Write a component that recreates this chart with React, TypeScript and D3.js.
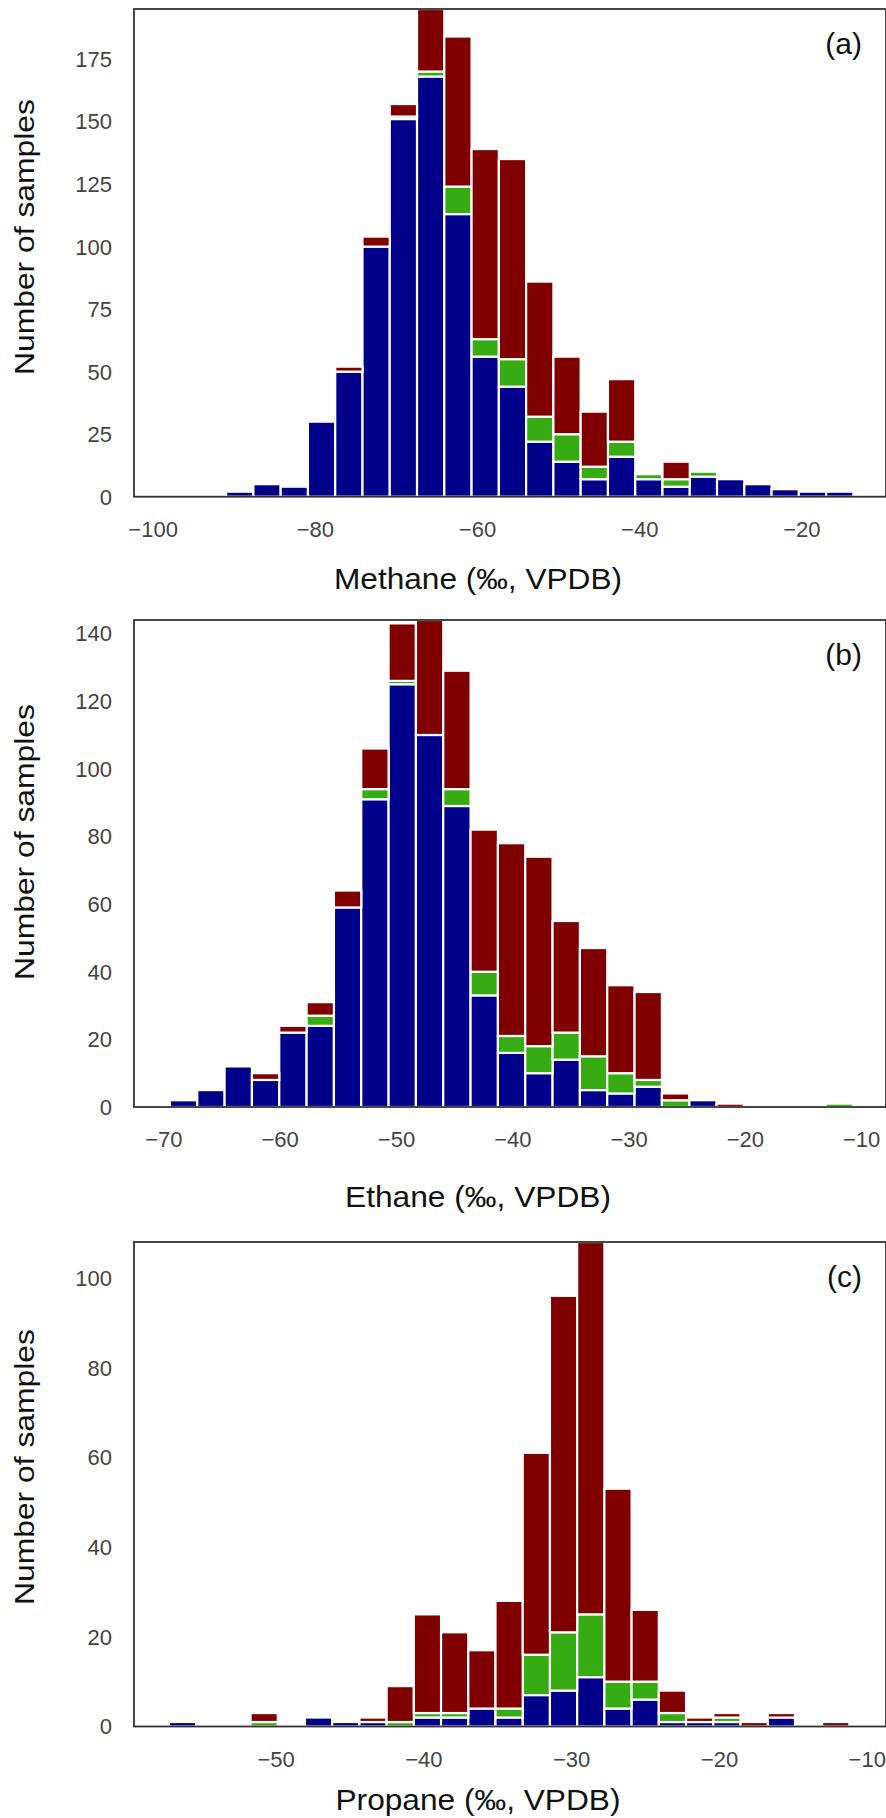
import React from "react";
import * as d3 from "d3";

// ---------- data ----------
// Panel (a) Methane: 23 bins
const methaneBinStart = -91.0;
const methaneBinWidth = 3.363;
const methaneBlue = [2, 5, 4, 30, 50, 100, 151, 168, 113, 56, 44, 22, 14, 7, 16, 7, 4, 8, 7, 5, 3, 2, 2];
const methaneGreen = [0, 0, 0, 0, 0, 0, 1, 2, 11, 7, 11, 10, 11, 5, 6, 2, 3, 2, 0, 0, 0, 0, 0];
const methaneRed = [0, 0, 0, 0, 2, 4, 5, 25, 60, 76, 80, 54, 31, 22, 25, 0, 7, 0, 0, 0, 0, 0, 0];
const methaneXDomain = [-102.36, -9.63];
const methaneXTicks = [-100, -80, -60, -40, -20];
const methaneYTicks = [0, 25, 50, 75, 100, 125, 150, 175];

// Panel (b) Ethane: 25 bins
const ethaneBinStart = -69.48;
const ethaneBinWidth = 2.35;
const ethaneBlue = [2, 5, 12, 8, 22, 24, 59, 91, 125, 110, 89, 33, 16, 10, 14, 5, 4, 6, 0, 2, 0, 0, 0, 0, 0];
const ethaneGreen = [0, 0, 0, 0, 0, 3, 0, 3, 1, 0, 5, 7, 5, 8, 8, 10, 6, 2, 2, 0, 0, 0, 0, 0, 1];
const ethaneRed = [0, 0, 0, 2, 2, 4, 5, 12, 17, 34, 35, 42, 57, 56, 33, 32, 26, 26, 2, 0, 1, 0, 0, 0, 0];
const ethaneXDomain = [-72.57, -7.91];
const ethaneXTicks = [-70, -60, -50, -40, -30, -20, -10];
const ethaneYTicks = [0, 20, 40, 60, 80, 100, 120, 140];

// Panel (c) Propane: 25 bins
const propaneBinStart = -57.26;
const propaneBinWidth = 1.842;
const propaneBlue = [1, 0, 0, 0, 0, 2, 1, 1, 0, 2, 2, 4, 2, 7, 8, 11, 4, 6, 1, 1, 1, 0, 2, 0, 0];
const propaneGreen = [0, 0, 0, 1, 0, 0, 0, 0, 1, 1, 1, 0, 2, 9, 13, 14, 6, 4, 2, 0, 1, 0, 0, 0, 0];
const propaneRed = [0, 0, 0, 2, 0, 0, 0, 1, 8, 22, 18, 13, 24, 45, 75, 83, 43, 16, 5, 1, 1, 1, 1, 0, 1];
const propaneXDomain = [-59.62, -8.73];
const propaneXTicks = [-50, -40, -30, -20, -10];
const propaneYTicks = [0, 20, 40, 60, 80, 100];

const xLabels = ["Methane (‰, VPDB)", "Ethane (‰, VPDB)", "Propane (‰, VPDB)"];
const panelTags = ["(a)", "(b)", "(c)"];
const yLabel = "Number of samples";

// ---------- styling / layout ----------
const COLORS = { blue: "#00008b", green: "#36ab12", red: "#800000" };
const FONT = "'Liberation Sans', Arial, Helvetica, sans-serif";
const LEFT = 134;
const RIGHT = 886;

const layouts = [
  { top: 9, bottom: 496.7, xLabelY: 589, xLabelLen: 288, yLabelCY: 237, tagY: 54 },
  { top: 620, bottom: 1107, xLabelY: 1207, xLabelLen: 266, yLabelCY: 842, tagY: 665 },
  { top: 1242, bottom: 1726.5, xLabelY: 1810, xLabelLen: 285, yLabelCY: 1467, tagY: 1287 },
];

const panels = [
  {
    binStart: methaneBinStart, binWidth: methaneBinWidth,
    blue: methaneBlue, green: methaneGreen, red: methaneRed,
    xDomain: methaneXDomain, xTicks: methaneXTicks, yTicks: methaneYTicks,
  },
  {
    binStart: ethaneBinStart, binWidth: ethaneBinWidth,
    blue: ethaneBlue, green: ethaneGreen, red: ethaneRed,
    xDomain: ethaneXDomain, xTicks: ethaneXTicks, yTicks: ethaneYTicks,
  },
  {
    binStart: propaneBinStart, binWidth: propaneBinWidth,
    blue: propaneBlue, green: propaneGreen, red: propaneRed,
    xDomain: propaneXDomain, xTicks: propaneXTicks, yTicks: propaneYTicks,
  },
];

const fmt = (v: number) => (v < 0 ? "\u2212" + Math.abs(v) : String(v));

function Panel({ idx }: { idx: number }) {
  const cfg = panels[idx];
  const lay = layouts[idx];
  const rows = cfg.blue.map((b, i) => ({ i, blue: b, green: cfg.green[i], red: cfg.red[i] }));
  const totals = rows.map((r) => r.blue + r.green + r.red);
  const x = d3.scaleLinear().domain(cfg.xDomain).range([LEFT, RIGHT]);
  const y = d3.scaleLinear().domain([0, d3.max(totals) as number]).range([lay.bottom, lay.top]);
  const series = d3.stack<any>().keys(["blue", "green", "red"])(rows);
  const clipId = `clip-${idx}`;

  return (
    <g>
      <defs>
        <clipPath id={clipId}>
          <rect x={LEFT} y={lay.top} width={RIGHT - LEFT} height={lay.bottom - lay.top} />
        </clipPath>
      </defs>
      <g clipPath={`url(#${clipId})`}>
        {series.map((s) =>
          s.map((d: any, j: number) => {
            if (d[1] - d[0] <= 0) return null;
            const x0 = x(cfg.binStart + j * cfg.binWidth);
            const x1 = x(cfg.binStart + (j + 1) * cfg.binWidth);
            return (
              <rect
                key={`${s.key}-${j}`}
                x={x0}
                y={y(d[1])}
                width={x1 - x0}
                height={y(d[0]) - y(d[1])}
                fill={(COLORS as any)[s.key]}
                stroke="#ffffff"
                strokeWidth={2.2}
              />
            );
          })
        )}
      </g>
      <rect
        x={LEFT}
        y={lay.top}
        width={RIGHT - LEFT}
        height={lay.bottom - lay.top}
        fill="none"
        stroke="#333333"
        strokeWidth={1.8}
      />
      {cfg.yTicks.map((t) => (
        <text
          key={`yt${t}`}
          x={112}
          y={y(t)}
          dy="0.36em"
          textAnchor="end"
          fontSize={22}
          fill="#444444"
          fontFamily={FONT}
        >
          {fmt(t)}
        </text>
      ))}
      {cfg.xTicks.map((t) => (
        <text
          key={`xt${t}`}
          x={x(t)}
          y={lay.bottom + 40}
          textAnchor="middle"
          fontSize={22}
          fill="#444444"
          fontFamily={FONT}
        >
          {fmt(t)}
        </text>
      ))}
      <text
        x={478}
        y={lay.xLabelY}
        textAnchor="middle"
        fontSize={29}
        fill="#111111"
        fontFamily={FONT}
        textLength={lay.xLabelLen}
        lengthAdjust="spacingAndGlyphs"
      >
        {xLabels[idx]}
      </text>
      <text
        transform={`translate(34,${lay.yLabelCY}) rotate(-90)`}
        textAnchor="middle"
        fontSize={28}
        fill="#111111"
        fontFamily={FONT}
        textLength={276}
        lengthAdjust="spacingAndGlyphs"
      >
        {yLabel}
      </text>
      <text x={862} y={lay.tagY} textAnchor="end" fontSize={30} fill="#111111" fontFamily={FONT}>
        {panelTags[idx]}
      </text>
    </g>
  );
}

export default function App() {
  return (
    <svg
      width={886}
      height={1818}
      viewBox="0 0 886 1818"
      style={{ position: "absolute", left: 0, top: 0, background: "#ffffff" }}
    >
      <rect x={0} y={0} width={886} height={1818} fill="#ffffff" />
      {panels.map((_, i) => (
        <Panel key={i} idx={i} />
      ))}
    </svg>
  );
}
